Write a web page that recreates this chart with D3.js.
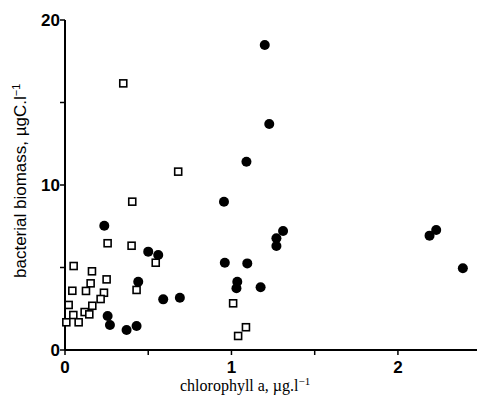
<!DOCTYPE html>
<html><head><meta charset="utf-8">
<script src="https://cdn.jsdelivr.net/npm/d3@7"></script>
<style>body{margin:0;background:#fff}svg{display:block}</style>
</head><body>
<svg id="c" width="477" height="407"></svg>
<script>
// filled circles: [chlorophyll a, bacterial biomass]
const filledChl = [0.236,0.50,0.56,0.44,0.59,0.69,0.256,0.27,0.37,0.43,0.96,1.095,1.035,1.03,1.175,1.31,1.27,1.27,2.19,2.23,2.39,1.20,1.227,1.09,0.955];
const filledBio = [7.53,5.96,5.76,4.14,3.07,3.17,2.06,1.52,1.21,1.45,5.29,5.25,4.14,3.74,3.80,7.21,6.77,6.30,6.93,7.27,4.95,18.48,13.70,11.41,8.99];
// open squares
const openChl = [0.256,0.40,0.545,0.052,0.162,0.154,0.25,0.234,0.214,0.044,0.126,0.43,0.022,0.164,0.118,0.146,0.05,0.082,0.008,0.35,0.68,0.404,1.01,1.04,1.087];
const openBio = [6.47,6.32,5.29,5.09,4.77,4.04,4.28,3.47,3.09,3.59,3.58,3.64,2.73,2.68,2.30,2.16,2.12,1.68,1.68,16.16,10.81,8.99,2.83,0.85,1.38];
const xTicks = [0, 1, 2];
const xMinorTicks = [0.5, 1.5];
const yTicks = [0, 10, 20];
const yMinorTicks = [5, 15];

const svg = d3.select("#c");
const x = d3.scaleLinear().domain([0, 2.475]).range([65, 477]);
const y = d3.scaleLinear().domain([0, 20]).range([350, 20]);

const g = svg.append("g");
g.append("line").attr("x1", x(0)).attr("x2", 477).attr("y1", y(0)).attr("y2", y(0)).attr("stroke", "#000").attr("stroke-width", 2);
g.append("line").attr("x1", x(0)).attr("x2", x(0)).attr("y1", y(0)).attr("y2", y(20)).attr("stroke", "#000").attr("stroke-width", 2);

g.selectAll(".xt").data(xTicks.concat(xMinorTicks)).enter().append("line")
  .attr("x1", d => x(d)).attr("x2", d => x(d)).attr("y1", y(0)).attr("y2", y(0) + 5)
  .attr("stroke", "#000").attr("stroke-width", 1.5);
g.selectAll(".xl").data(xTicks).enter().append("text")
  .attr("x", d => x(d)).attr("y", 373).attr("text-anchor", "middle")
  .attr("font-family", "Liberation Sans, Arial, sans-serif").attr("font-weight", "bold").attr("font-size", 17)
  .text(d => d);
g.selectAll(".yt").data(yTicks.concat(yMinorTicks)).enter().append("line")
  .attr("x1", x(0) - 5).attr("x2", x(0)).attr("y1", d => y(d)).attr("y2", d => y(d))
  .attr("stroke", "#000").attr("stroke-width", 1.5);
g.selectAll(".yl").data(yTicks).enter().append("text")
  .attr("x", x(0) - 5).attr("y", d => y(d) + 6).attr("text-anchor", "end")
  .attr("font-family", "Liberation Sans, Arial, sans-serif").attr("font-weight", "bold").attr("font-size", 17)
  .text(d => d);

const xl = g.append("text").attr("x", 180).attr("y", 391)
  .attr("font-family", "Liberation Serif, Times New Roman, serif").attr("font-size", 16);
xl.append("tspan").text("chlorophyll a, µg.l");
xl.append("tspan").attr("dy", -6).attr("font-size", 11).text("−1");

const yl = g.append("text").attr("transform", "translate(26,278) rotate(-90)")
  .attr("font-family", "Liberation Sans, Arial, sans-serif").attr("font-size", 17);
yl.append("tspan").text("bacterial biomass, µgC.l");
yl.append("tspan").attr("dy", -6).attr("font-size", 11).text("−1");

const filled = filledChl.map((c, i) => [c, filledBio[i]]);
const open = openChl.map((c, i) => [c, openBio[i]]);
g.selectAll(".f").data(filled).enter().append("circle")
  .attr("cx", d => x(d[0])).attr("cy", d => y(d[1])).attr("r", 5).attr("fill", "#000");
g.selectAll(".o").data(open).enter().append("rect")
  .attr("x", d => x(d[0]) - 3.5).attr("y", d => y(d[1]) - 3.5).attr("width", 7).attr("height", 7)
  .attr("fill", "#fff").attr("stroke", "#000").attr("stroke-width", 1.6);
</script>
</body></html>
